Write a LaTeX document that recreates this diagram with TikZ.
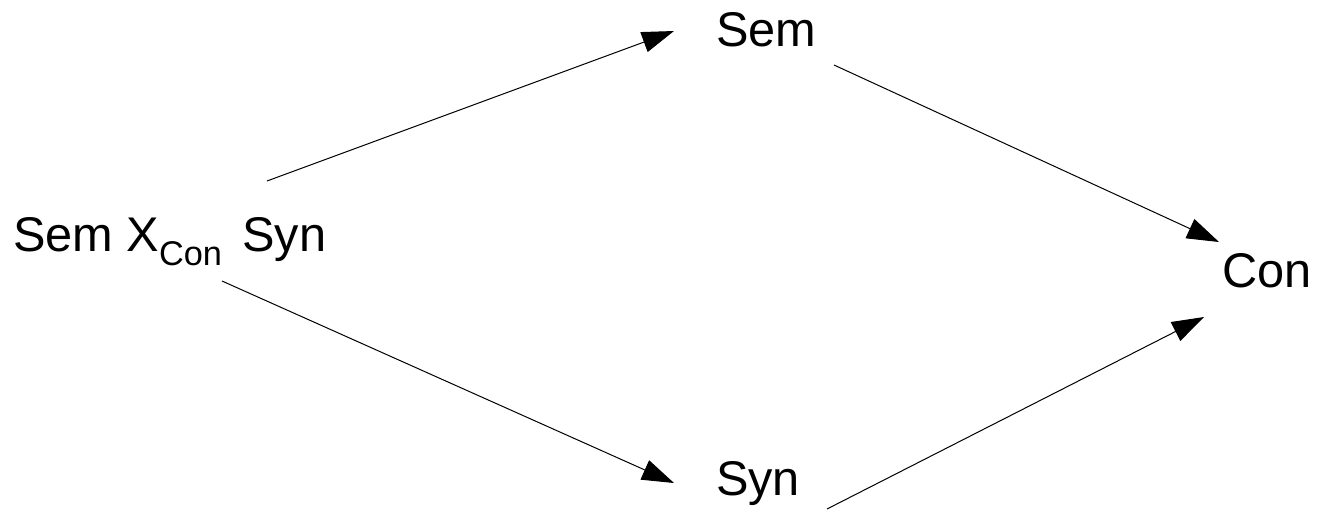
\documentclass[tikz,border=0pt]{standalone}
\usepackage{fontspec}
\setmainfont{Liberation Sans}
\usetikzlibrary{arrows.meta}
\tikzset{
  lbl/.style={inner sep=0pt, outer sep=0pt, anchor=base west, font=\fontsize{48.7pt}{58pt}\selectfont},
  conn/.style={line width=1pt, -{Triangle[length=32pt,width=21pt]}}
}
\begin{document}
\begin{tikzpicture}[x=1pt,y=-1pt]
\useasboundingbox (0,0) rectangle (1319,512);
\node[lbl] (sem) at (716,46) {Sem};
\node[lbl] (mid) at (13,251) {Sem X\raisebox{-14pt}{\fontsize{34.3pt}{40pt}\selectfont Con}\hspace{20.4pt}Syn};
\node[lbl] (con) at (1222.5,287) {Con};
\node[lbl] (syn) at (716,495) {Syn};
\draw[conn] ([shift={(254,-70)}]mid.base west) -- ([shift={(-42,-15)}]sem.base west);
\draw[conn] ([shift={(118,19)}]sem.base west) -- ([shift={(-3.5,-45)}]con.base west);
\draw[conn] ([shift={(209,30)}]mid.base west) -- ([shift={(-42,-12)}]syn.base west);
\draw[conn] ([shift={(111,14)}]syn.base west) -- ([shift={(-18.5,30)}]con.base west);
\end{tikzpicture}
\end{document}
